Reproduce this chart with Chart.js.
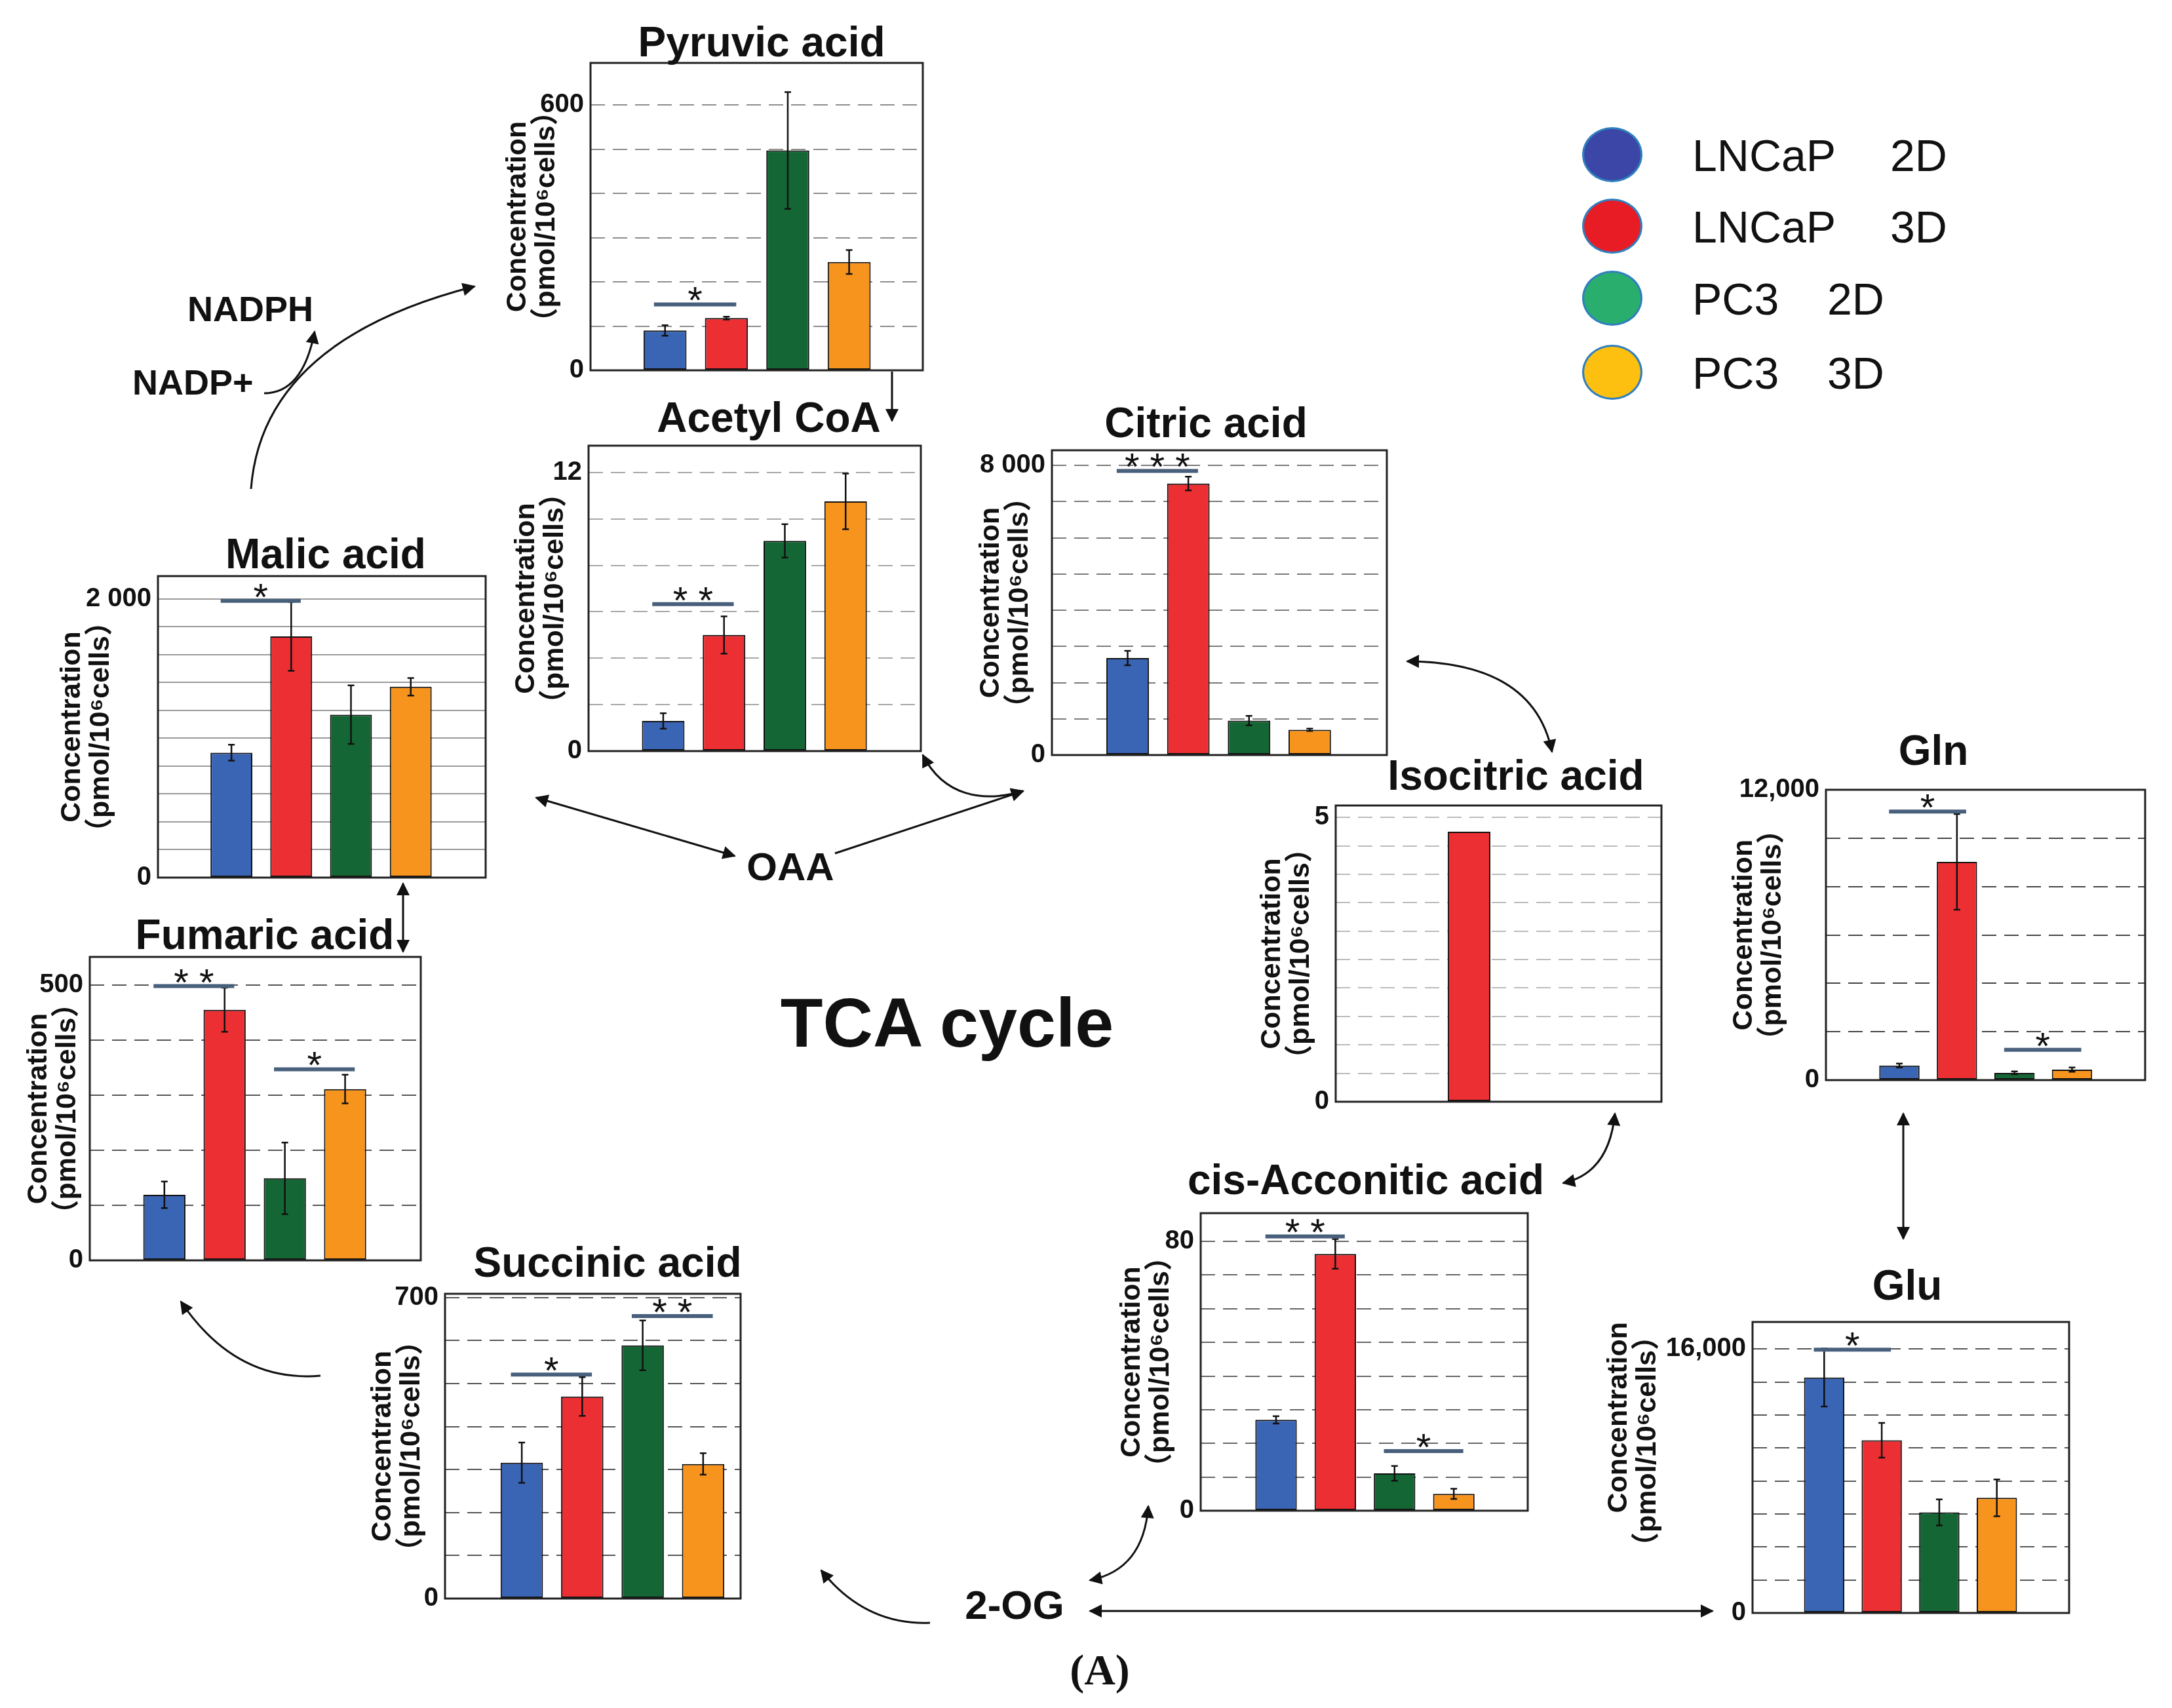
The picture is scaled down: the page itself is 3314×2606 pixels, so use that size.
<!DOCTYPE html>
<html>
<head>
<meta charset="utf-8">
<title>TCA cycle metabolites</title>
<script src="https://cdn.jsdelivr.net/npm/chart.js@4.4.1/dist/chart.umd.min.js"></script>
<style>
    body { margin: 0; background: #fff; }
    #page { position: relative; width: 3314px; height: 2606px; overflow: hidden; background: #fff; }
    #page canvas { position: absolute; }
    .txt { position: absolute; white-space: nowrap; line-height: 1; color: #111;
           font-family: 'Liberation Sans', 'DejaVu Sans', Arial, sans-serif; }
    #arrows { position: absolute; left: 0; top: 0; pointer-events: none; }
</style>
</head>
<body>
<div id="page">
    <svg id="arrows" width="3314" height="2606" xmlns="http://www.w3.org/2000/svg">
        <defs>
            <marker id="head" viewBox="0 0 10 10" refX="9" refY="5" markerWidth="26" markerHeight="20"
                    markerUnits="userSpaceOnUse" orient="auto-start-reverse">
                <path d="M0,0 L10,5 L0,10 z" fill="#111"/>
            </marker>
        </defs>
        <g fill="none" stroke="#111" stroke-width="3">
            <!-- Malic -> Pyruvic, NADP+ -> NADPH -->
            <path d="M383,746 Q400,520 724,437" marker-end="url(#head)"/>
            <path d="M403,600 Q462,600 480,506" marker-end="url(#head)"/>
            <!-- Pyruvic -> Acetyl CoA -->
            <path d="M1361,567 L1361,642" marker-end="url(#head)"/>
            <!-- Acetyl CoA / OAA -> Citric -->
            <path d="M1408,1152 C1440,1215 1500,1225 1561,1207" marker-start="url(#head)" marker-end="url(#head)"/>
            <path d="M818,1217 L1121,1306" marker-start="url(#head)" marker-end="url(#head)"/>
            <path d="M1274,1302 L1561,1207" marker-end="url(#head)"/>
            <!-- Citric <-> Isocitric <-> cis-Aconitic <-> 2-OG -->
            <path d="M2147,1009 Q2340,1010 2368,1147" marker-start="url(#head)" marker-end="url(#head)"/>
            <path d="M2464,1699 Q2455,1790 2385,1805" marker-start="url(#head)" marker-end="url(#head)"/>
            <path d="M1752,2298 Q1745,2395 1663,2411" marker-start="url(#head)" marker-end="url(#head)"/>
            <!-- 2-OG <-> Glu, Gln <-> Glu -->
            <path d="M1663,2458 L2613,2458" marker-start="url(#head)" marker-end="url(#head)"/>
            <path d="M2904,1699 L2904,1890" marker-start="url(#head)" marker-end="url(#head)"/>
            <!-- 2-OG -> Succinic -> Fumaric <-> Malic -->
            <path d="M1419,2476 Q1320,2480 1253,2396" marker-end="url(#head)"/>
            <path d="M489,2099 Q360,2110 276,1986" marker-end="url(#head)"/>
            <path d="M615,1348 L615,1452" marker-start="url(#head)" marker-end="url(#head)"/>
        </g>
    </svg>
</div>

<script>
// groups shared by every panel
const groups = ['LNCaP 2D', 'LNCaP 3D', 'PC3 2D', 'PC3 3D'];
const barColors = ['#3a64b4', '#ec2f33', '#146734', '#f7941e'];
const legendNames = [['LNCaP', '2D'], ['LNCaP', '3D'], ['PC3', '2D'], ['PC3', '3D']];
const legendColors = ['#3b46a6', '#e81c25', '#2aae6e', '#fdc010'];

// concentrations (pmol/10^6 cells), mean and error
const pyruvicVals = [90, 118, 497, 245];
const pyruvicErr = [12, 3, 132, 27];
const pyruvicSig = [[0, 1, 149, '*']];
const pyruvicTicks = [[0, '0'], [600, '600']];

const acetylVals = [1.3, 5.0, 9.05, 10.75];
const acetylErr = [0.33, 0.8, 0.72, 1.2];
const acetylSig = [[0, 1, 6.33, '* *']];
const acetylTicks = [[0, '0'], [12, '12']];

const citricVals = [2680, 7500, 950, 697];
const citricErr = [200, 190, 130, 30];
const citricSig = [[0, 1, 7850, '* * *']];
const citricTicks = [[0, '0'], [8000, '8 000']];

const malicVals = [896, 1730, 1169, 1369];
const malicErr = [57, 247, 210, 63];
const malicSig = [[0, 1, 1986, '*']];
const malicTicks = [[0, '0'], [2000, '2 000']];

const fumaricVals = [119, 455, 149, 311];
const fumaricErr = [24, 40, 65, 26];
const fumaricSig = [[0, 1, 498, '* *'], [2, 3, 347, '*']];
const fumaricTicks = [[0, '0'], [500, '500']];

const succinicVals = [316, 470, 589, 313];
const succinicErr = [47, 45, 58, 25];
const succinicSig = [[0, 1, 521, '*'], [2, 3, 657, '* *']];
const succinicTicks = [[0, '0'], [700, '700']];

const isocitricVals = [null, 4.75, null, null];
const isocitricErr = [0, 0, 0, 0];
const isocitricSig = [];
const isocitricTicks = [[0, '0'], [5, '5']];

const cisVals = [27, 76.3, 11.1, 5.0];
const cisErr = [1.1, 4.4, 2.2, 1.5];
const cisSig = [[0, 1, 81.5, '* *'], [2, 3, 17.7, '*']];
const cisTicks = [[0, '0'], [80, '80']];

const glnVals = [602, 9020, 301, 432];
const glnErr = [80, 1980, 60, 90];
const glnSig = [[0, 1, 11100, '*'], [2, 3, 1255, '*']];
const glnTicks = [[0, '0'], [12000, '12,000']];

const gluVals = [14280, 10470, 6100, 6980];
const gluErr = [1760, 1050, 790, 1120];
const gluSig = [[0, 1, 15970, '*']];
const gluTicks = [[0, '0'], [16000, '16,000']];

const FONT = "'Liberation Sans', 'DejaVu Sans', 'Noto Sans CJK JP', Arial, sans-serif";
const PAD = 40;

// plot boxes (left, top, right, bottom) and axis setup for every panel
const panels = [
    { title: 'Pyruvic acid', tx: 1162, ty: 86, box: [901, 96, 1408, 565], axisW: 133, yMax: 695, step: 100,
      xr: [-0.214, 5.2], vals: pyruvicVals, err: pyruvicErr, sig: pyruvicSig, ticks: pyruvicTicks, grid: '#8c8c8c', dash: [22, 12] },
    { title: 'Acetyl CoA', tx: 1173, ty: 659, box: [898, 680, 1405, 1146], axisW: 117, yMax: 13.15, step: 2,
      xr: [-0.228, 5.237], vals: acetylVals, err: acetylErr, sig: acetylSig, ticks: acetylTicks, grid: '#a8a8a8', dash: [22, 12] },
    { title: 'Citric acid', tx: 1840, ty: 667, box: [1605, 687, 2116, 1152], axisW: 115, yMax: 8420, step: 1000,
      xr: [-0.247, 5.27], vals: citricVals, err: citricErr, sig: citricSig, ticks: citricTicks, grid: '#7a7a7a', dash: [22, 12] },
    { title: 'Malic acid', tx: 497, ty: 867, box: [241, 879, 741, 1339], axisW: 153, yMax: 2163, step: 200,
      xr: [-0.229, 5.253], vals: malicVals, err: malicErr, sig: malicSig, ticks: malicTicks, grid: '#9a9a9a', dash: [] },
    { title: 'Fumaric acid', tx: 404, ty: 1448, box: [137, 1460, 642, 1923], axisW: 100, yMax: 551, step: 100,
      xr: [-0.238, 5.256], vals: fumaricVals, err: fumaricErr, sig: fumaricSig, ticks: fumaricTicks, grid: '#555', dash: [22, 12] },
    { title: 'Succinic acid', tx: 927, ty: 1948, box: [679, 1974, 1130, 2439], axisW: 117, yMax: 709, step: 100,
      xr: [-0.27, 4.62], vals: succinicVals, err: succinicErr, sig: succinicSig, ticks: succinicTicks, grid: '#555', dash: [22, 12] },
    { title: 'Isocitric acid', tx: 2313, ty: 1205, box: [2038, 1229, 2535, 1681], axisW: 119, yMax: 5.21, step: 0.5,
      xr: [-0.19, 5.16], vals: isocitricVals, err: isocitricErr, sig: isocitricSig, ticks: isocitricTicks, grid: '#bbbbbb', dash: [22, 12] },
    { title: 'cis-Acconitic acid', tx: 2084, ty: 1822, box: [1832, 1851, 2331, 2305], axisW: 127, yMax: 88.4, step: 10,
      xr: [-0.272, 5.248], vals: cisVals, err: cisErr, sig: cisSig, ticks: cisTicks, grid: '#666', dash: [22, 12] },
    { title: 'Gln', tx: 2950, ty: 1167, box: [2786, 1205, 3273, 1648], axisW: 147, yMax: 12000, step: 2000,
      xr: [-0.276, 5.27], vals: glnVals, err: glnErr, sig: glnSig, ticks: glnTicks, grid: '#444', dash: [22, 12] },
    { title: 'Glu', tx: 2910, ty: 1983, box: [2674, 2017, 3157, 2461], axisW: 226, yMax: 17645, step: 2000,
      xr: [-0.245, 5.256], vals: gluVals, err: gluErr, sig: gluSig, ticks: gluTicks, grid: '#555', dash: [22, 12], titleAlign: 'end' }
];

const page = document.getElementById('page');

function addText(text, x, baseline, size, opts = {}) {
    const d = document.createElement('div');
    d.className = 'txt';
    d.textContent = text;
    d.style.fontSize = size + 'px';
    d.style.fontWeight = opts.bold ? 'bold' : 'normal';
    if (opts.family) d.style.fontFamily = opts.family;
    const asc = opts.family ? 0.8375 : 0.8465;
    d.style.top = (baseline - asc * size) + 'px';
    d.style.left = x + 'px';
    if (opts.center) d.style.transform = 'translateX(-50%)';
    page.appendChild(d);
    return d;
}

// error bars, significance bars and the plot frame
const panelExtras = {
    id: 'panelExtras',
    afterDatasetsDraw(chart, args, opts) {
        const { ctx, chartArea: area, scales: { x, y } } = chart;
        ctx.save();
        ctx.strokeStyle = '#111';
        ctx.lineWidth = 2.5;
        opts.err.forEach((e, i) => {
            const v = opts.vals[i];
            if (v == null || !e) return;
            const px = x.getPixelForValue(i + 1);
            const top = y.getPixelForValue(v + e);
            const bot = y.getPixelForValue(Math.max(v - e, 0));
            ctx.beginPath();
            ctx.moveTo(px, top); ctx.lineTo(px, bot);
            ctx.moveTo(px - 5, top); ctx.lineTo(px + 5, top);
            ctx.moveTo(px - 5, bot); ctx.lineTo(px + 5, bot);
            ctx.stroke();
        });

        opts.sig.forEach(([a, b, level, mark]) => {
            const x0 = x.getPixelForValue(a + 1 - 0.18);
            const x1 = x.getPixelForValue(b + 1 + 0.16);
            const py = y.getPixelForValue(level);
            ctx.strokeStyle = '#48607c';
            ctx.lineWidth = 6;
            ctx.beginPath();
            ctx.moveTo(x0, py); ctx.lineTo(x1, py);
            ctx.stroke();
            ctx.fillStyle = '#111';
            ctx.font = '58px ' + FONT;
            ctx.textAlign = 'center';
            ctx.textBaseline = 'alphabetic';
            ctx.fillText(mark, (x0 + x1) / 2, py + 14);
        });

        ctx.strokeStyle = '#222';
        ctx.lineWidth = 3;
        ctx.strokeRect(area.left, area.top, area.right - area.left, area.bottom - area.top);
        ctx.restore();
    }
};

Chart.defaults.font.family = FONT;
Chart.defaults.color = '#111';
Chart.defaults.animation = false;

panels.forEach(p => {
    const [L, T, R, B] = p.box;
    const canvas = document.createElement('canvas');
    const w = R - L + p.axisW + PAD;
    const h = B - T + 2 * PAD;
    canvas.width = w;
    canvas.height = h;
    canvas.style.left = (L - p.axisW) + 'px';
    canvas.style.top = (T - PAD) + 'px';
    canvas.style.width = w + 'px';
    canvas.style.height = h + 'px';
    page.appendChild(canvas);

    addText(p.title, p.tx, p.ty, 64, { bold: true, center: true });

    // grid lines at every step below the axis maximum
    const gridVals = [];
    for (let k = 0; k * p.step <= p.yMax + 1e-9; k++) gridVals.push(+(k * p.step).toFixed(6));
    const labelFor = v => {
        const t = p.ticks.find(([val]) => Math.abs(val - v) < 1e-6);
        return t ? t[1] : '';
    };

    new Chart(canvas.getContext('2d'), {
        type: 'bar',
        data: {
            datasets: [{
                label: p.title,
                data: p.vals.map((v, i) => ({ x: i + 1, y: v })),
                backgroundColor: barColors,
                borderColor: '#111',
                borderWidth: 2,
                borderSkipped: false,
                barPercentage: 0.7,
                categoryPercentage: 1
            }]
        },
        options: {
            responsive: false,
            devicePixelRatio: 1,
            layout: { padding: { left: 0, right: PAD, top: PAD, bottom: PAD } },
            plugins: {
                legend: { display: false },
                tooltip: { enabled: false },
                panelExtras: { vals: p.vals, err: p.err, sig: p.sig }
            },
            scales: {
                x: {
                    type: 'linear',
                    display: false,
                    offset: false,
                    grid: { offset: false },
                    bounds: 'data',
                    min: p.xr[0],
                    max: p.xr[1],
                    afterBuildTicks: scale => { scale.ticks = groups.map((g, i) => ({ value: i + 1 })); }
                },
                y: {
                    bounds: 'data',
                    min: 0,
                    max: p.yMax,
                    afterFit: scale => { scale.width = p.axisW; },
                    afterBuildTicks: scale => { scale.ticks = gridVals.map(v => ({ value: v })); },
                    afterTickToLabelConversion: scale => {
                        scale.ticks.forEach(t => { t.label = labelFor(t.value); });
                    },
                    border: { display: false, dash: p.dash },
                    grid: { color: p.grid, lineWidth: 2, drawTicks: false },
                    ticks: {
                        autoSkip: false,
                        padding: 10,
                        font: { size: 40, weight: 'bold' }
                    },
                    title: {
                        display: true,
                        text: ['Concentration', '（pmol/10⁶cells）'],
                        align: p.titleAlign || 'center',
                        padding: { top: 0, bottom: 0 },
                        font: { size: 43, weight: 'bold', lineHeight: 1.02 }
                    }
                }
            }
        },
        plugins: [panelExtras]
    });
});

// pathway labels
addText('NADPH', 286, 490, 54, { bold: true });
addText('NADP+', 202, 602, 54, { bold: true });
addText('OAA', 1206, 1344, 60, { bold: true, center: true });
addText('TCA cycle', 1445, 1597, 106, { bold: true, center: true });
addText('2-OG', 1548, 2470, 62, { bold: true, center: true });
addText('(A)', 1678, 2570, 66, { bold: true, center: true, family: "'Liberation Serif', 'DejaVu Serif', serif" });

// legend
const legendRows = [236, 345, 455, 568];
legendNames.forEach(([cell, dim], i) => {
    const cy = legendRows[i];
    const dot = document.createElement('div');
    dot.style.cssText = `position:absolute;left:${2460 - 46}px;top:${cy - 42}px;width:92px;height:84px;` +
        `border-radius:50%;background:${legendColors[i]};box-sizing:border-box;border:3px solid #2f7fbf;`;
    page.appendChild(dot);
    addText(cell, 2582, cy + 25, 68);
    addText(dim, cell === 'PC3' ? 2788 : 2884, cy + 25, 68);
});
</script>
</body>
</html>
